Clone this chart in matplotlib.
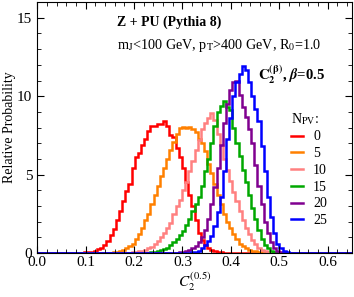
import matplotlib
matplotlib.use("Agg")
import matplotlib.pyplot as plt
import numpy as np
from matplotlib.ticker import MultipleLocator

plt.rcParams['font.family'] = 'serif'
plt.rcParams['font.serif'] = ['Liberation Serif', 'DejaVu Serif']
plt.rcParams['mathtext.fontset'] = 'stix'

# histogram binning (100 bins over 0 .. 0.65)
bin_width = 0.0065
n_bins = 100

npv_labels = ['0', '5', '10', '15', '20', '25']
colors = ['#ff0000', '#ff8000', '#ff8080', '#00a800', '#800090', '#0000ff']

# (first bin index, bin values)
red_start = 10
red = [0.01, 0.01, 0.02, 0.02, 0.03, 0.04, 0.06, 0.08, 0.15, 0.25,
       0.35, 0.5, 0.75, 1.15, 1.55, 2.1, 2.7, 3.3, 3.95, 4.4,
       5.4, 6.1, 6.4, 6.9, 7.3, 7.8, 8.1, 8.1, 8.2, 8.2,
       8.4, 8.1, 7.5, 7.4, 6.7, 6.1, 5.4, 4.5, 3.7, 3.0,
       2.1, 1.3, 0.8, 0.5, 0.3, 0.2, 0.12, 0.08, 0.05, 0.03,
       0.02, 0.01]

orange_start = 22
orange = [0.02, 0.03, 0.05, 0.08, 0.12, 0.2, 0.3, 0.45, 0.6, 0.9,
          1.2, 1.6, 2.1, 2.5, 3.1, 3.7, 4.3, 4.9, 5.4, 6.0,
          6.6, 7.1, 7.6, 7.95, 8.05, 8.0, 8.05, 7.9, 7.7, 7.3,
          7.0, 6.5, 5.7, 5.1, 4.4, 3.7, 3.1, 2.5, 2.0, 1.6,
          1.2, 0.9, 0.6, 0.45, 0.3, 0.2, 0.12, 0.1, 0.06, 0.04,
          0.02]

pink_start = 30
pink = [0.05, 0.07, 0.1, 0.15, 0.2, 0.3, 0.4, 0.55, 0.75, 1.0,
        1.3, 1.6, 1.9, 2.5, 3.0, 3.4, 4.0, 4.5, 5.2, 5.9,
        6.6, 7.2, 7.9, 8.3, 8.6, 8.9, 8.5, 7.6, 6.9, 6.0,
        5.3, 4.6, 3.9, 3.3, 2.7, 2.1, 1.6, 1.2, 0.85, 0.55,
        0.35, 0.2, 0.12, 0.07, 0.04, 0.02]

green_start = 36
green = [0.05, 0.08, 0.12, 0.18, 0.25, 0.35, 0.5, 0.7, 0.9, 1.15,
         1.4, 1.8, 2.2, 2.7, 3.1, 3.6, 4.3, 5.2, 6.0, 7.0,
         8.1, 9.0, 9.4, 9.7, 9.3, 9.1, 8.0, 7.0, 6.2, 5.3,
         4.5, 3.7, 2.9, 2.2, 1.5, 0.9, 0.5, 0.3, 0.15, 0.08,
         0.04, 0.02]

purple_start = 44
purple = [0.03, 0.05, 0.08, 0.12, 0.2, 0.3, 0.45, 0.7, 1.0, 1.5,
          2.2, 3.1, 4.2, 5.4, 6.9, 8.3, 9.5, 10.4, 10.9, 11.0,
          10.1, 9.3, 8.7, 7.9, 7.0, 5.6, 4.3, 3.1, 2.0, 1.3,
          0.7, 0.35, 0.15, 0.06, 0.02]

blue_start = 48
blue = [0.03, 0.05, 0.08, 0.15, 0.3, 0.5, 0.75, 1.1, 1.7, 2.6,
        3.6, 5.2, 7.3, 8.6, 10.0, 10.9, 11.4, 11.95, 11.7, 10.9,
        10.0, 9.2, 8.4, 6.8, 5.2, 3.6, 2.3, 1.3, 0.6, 0.3,
        0.12, 0.05, 0.02]

series = [(red_start, red), (orange_start, orange), (pink_start, pink),
          (green_start, green), (purple_start, purple), (blue_start, blue)]

edges = np.arange(n_bins + 1) * bin_width

fig = plt.figure(figsize=(3.54, 2.97), dpi=100)
ax = fig.add_axes([0.105, 0.148, 0.889, 0.845])

for (start, vals), col, lab in zip(series, colors, npv_labels):
    h = np.zeros(n_bins)
    h[start:start + len(vals)] = vals
    ax.stairs(h, edges, color=col, lw=1.8, label=lab)

ax.set_xlim(0, 0.65)
ax.set_ylim(0, 16)
ax.xaxis.set_major_locator(MultipleLocator(0.1))
ax.xaxis.set_minor_locator(MultipleLocator(0.02))
ax.yaxis.set_major_locator(MultipleLocator(5))
ax.yaxis.set_minor_locator(MultipleLocator(1))
ax.xaxis.set_major_formatter(plt.FuncFormatter(lambda v, p: f"{v:.1f}"))
ax.tick_params(which='both', direction='in', top=True, right=True, labelsize=11)
ax.tick_params(which='major', length=5, width=0.8)
ax.tick_params(which='minor', length=3, width=0.6)
ax.tick_params(axis='x', pad=2)
for s in ax.spines.values():
    s.set_linewidth(0.8)

ax.set_ylabel('Relative Probability', fontsize=10, labelpad=1)
ax.set_xlabel(r'$C_2^{(0.5)}$', fontsize=11, labelpad=1)

ax.text(0.254, 0.92, 'Z + PU (Pythia 8)', transform=ax.transAxes,
        fontsize=10, fontweight='bold', va='center', ha='left')
ax.text(0.254, 0.825, r'm$_\mathrm{J}$<100 GeV, p$_\mathrm{T}$>400 GeV, R$_0$=1.0',
        transform=ax.transAxes, fontsize=10.2, va='center', ha='left')
ax.text(0.703, 0.71, r'$\mathbf{C_2^{(\beta)}}$, $\boldsymbol{\beta}$=0.5',
        transform=ax.transAxes, fontsize=10.6, fontweight='bold', va='center', ha='left')

leg = ax.legend(loc='upper left', bbox_to_anchor=(0.775, 0.605), frameon=False,
                title=r'N$_\mathrm{PV}$:', fontsize=10, title_fontsize=10,
                handlelength=0.9, handletextpad=0.7, labelspacing=0.27,
                alignment='left', borderpad=0.2)

fig.savefig('out.png', dpi=100)
